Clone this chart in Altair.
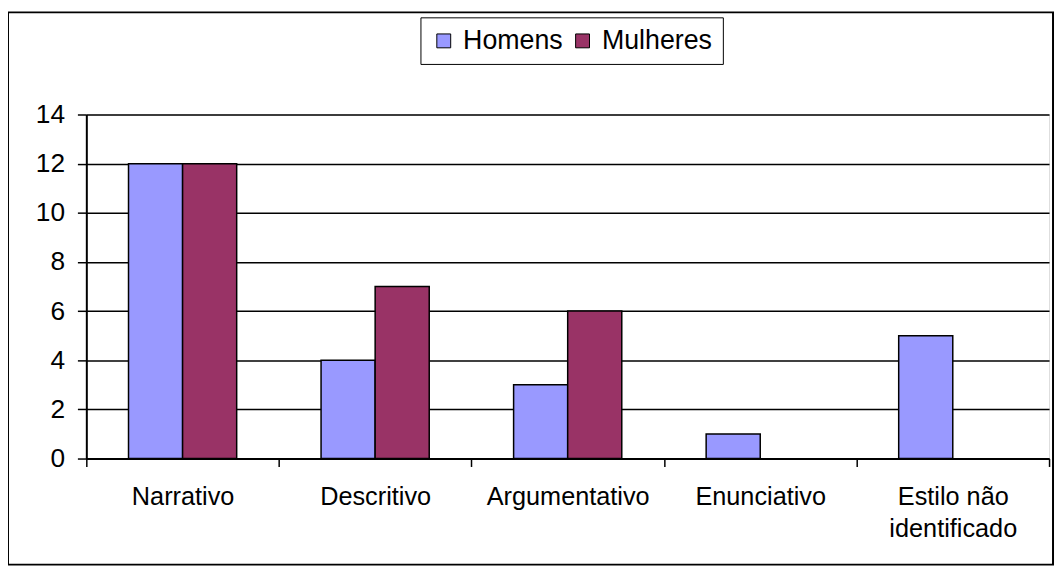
import altair as alt
import pandas as pd

categories = ["Narrativo", "Descritivo", "Argumentativo", "Enunciativo", "Estilo não identificado"]
homens = [12, 4, 3, 1, 5]
mulheres = [12, 7, 6, 0, 0]
series = ["Homens", "Mulheres"]
colors = ["#9999FF", "#993366"]

rows = []
for c, h, m in zip(categories, homens, mulheres):
    rows.append({"cat": c, "serie": "Homens", "v": h})
    rows.append({"cat": c, "serie": "Mulheres", "v": m})
df = pd.DataFrame(rows)
df = df[df["v"] > 0]

FONT = "Liberation Sans"

bars = alt.Chart(df).mark_bar(stroke="black", strokeWidth=1.5).encode(
    x=alt.X("cat:N", sort=categories, title=None,
            scale=alt.Scale(paddingInner=0, paddingOuter=0),
            axis=alt.Axis(labelAngle=0, tickBand="extent", tickSize=8, tickColor="black",
                          tickWidth=1.5, domainColor="black", domainWidth=2,
                          labelFont=FONT, labelFontSize=25.5, labelColor="black",
                          labelPadding=18, labelLineHeight=33,
                          labelExpr="datum.value == 'Estilo não identificado' ? ['Estilo não', 'identificado'] : datum.value")),
    xOffset=alt.XOffset("serie:N", sort=series,
                        scale=alt.Scale(domain=series, paddingInner=0, paddingOuter=0.78)),
    y=alt.Y("v:Q", title=None,
            scale=alt.Scale(domain=[0, 14], nice=False),
            axis=alt.Axis(values=list(range(0, 15, 2)), tickSize=9, tickColor="black", tickWidth=1.5,
                          domainColor="black", domainWidth=2, grid=True, gridColor="black",
                          gridWidth=1.5, labelFont=FONT, labelFontSize=26.5, labelColor="black",
                          labelPadding=13)),
    color=alt.Color("serie:N", sort=series, title=None,
                    scale=alt.Scale(domain=series, range=colors),
                    legend=alt.Legend(orient="none", legendX=337, legendY=-98, direction="horizontal",
                                      symbolType="square", symbolSize=196, symbolStrokeColor="black",
                                      symbolStrokeWidth=1, labelFont=FONT, labelFontSize=27,
                                      labelColor="black", labelOffset=6, columnPadding=6,
                                      strokeColor="black", fillColor="white", padding=10)),
)

frame = alt.Chart(alt.Data(values=[{}])).mark_rect(
    fill=None, stroke="black", strokeWidth=2, clip=False
).encode(
    x=alt.value(-79), x2=alt.value(975), y=alt.value(-103), y2=alt.value(454)
)

chart = alt.layer(bars, frame).properties(
    width=971, height=347,
    padding={"left": 79, "top": 105, "right": 6, "bottom": 110},
    autosize=alt.AutoSizeParams(type="none"),
).configure_view(
    fill="#C0C0C0", stroke="#808080", strokeWidth=1.5
).configure(background="white")

chart.save("out.html", embed_options={"renderer": "svg", "actions": False})
